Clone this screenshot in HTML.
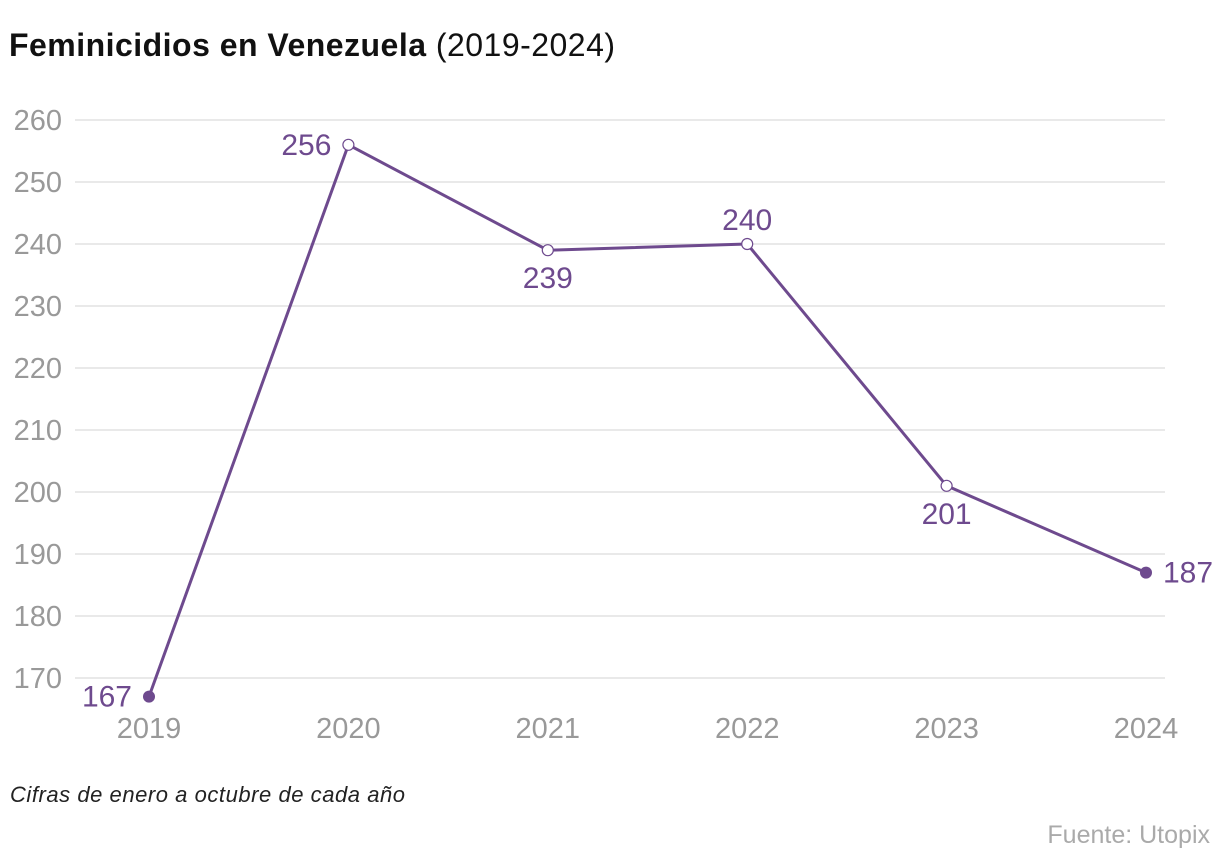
<!DOCTYPE html>
<html><head><meta charset="utf-8"><style>
body{margin:0;background:#fff;font-family:"Liberation Sans",sans-serif;}
svg{display:block}
</style></head><body>
<svg id="c" width="1220" height="864">
<text x="9" y="56" font-size="32" fill="#111" textLength="606"><tspan font-weight="bold">Feminicidios en Venezuela</tspan> (2019-2024)</text>
<g id="grid"></g><g id="series"></g>
<text x="10" y="802" font-size="22" font-style="italic" fill="#222" textLength="395">Cifras de enero a octubre de cada año</text>
<text x="1210" y="843" font-size="25" fill="#aaa" text-anchor="end">Fuente: Utopix</text>
</svg>
<script>
const years=["2019","2020","2021","2022","2023","2024"];
const values=[167,256,239,240,201,187];
const yTicks=[170,180,190,200,210,220,230,240,250,260];
const labelPos=["left","left","below","above","below","right"];
const NS="http://www.w3.org/2000/svg";
const x=i=>149+i*199.4;
const y=v=>678-(v-170)*6.2;
function mk(t,a,p){const e=document.createElementNS(NS,t);for(const k in a)e.setAttribute(k,a[k]);p.appendChild(e);return e;}
const g=document.getElementById('grid'),s=document.getElementById('series');
yTicks.forEach(v=>{
 const l=mk('line',{x1:75,x2:1165,y1:y(v),y2:y(v),stroke:'#e2e2e2','stroke-width':1.5},g);
 
 
 const t=mk('text',{x:62,y:y(v)+10,'font-size':29,fill:'#999','text-anchor':'end'},g);t.textContent=v;
 
 
});
years.forEach((yr,i)=>{
 const t=mk('text',{x:x(i),y:738,'font-size':29,fill:'#999','text-anchor':'middle'},g);t.textContent=yr;
 
 
});
const C='#6e4a8e';
const p=mk('polyline',{points:values.map((v,i)=>x(i)+','+y(v)).join(' '),fill:'none',stroke:C,'stroke-width':3,'stroke-linejoin':'round'},s);


values.forEach((v,i)=>{
 const end=i==0||i==values.length-1;
 const c=mk('circle',{cx:x(i),cy:y(v),r:end?6:5.5,fill:end?C:'#fff',stroke:C,'stroke-width':end?0:1.2},s);
 
 
 const pos=labelPos[i];let tx=x(i),ty=y(v)+10,an='middle';
 if(pos=='left'){tx=x(i)-17;an='end';}
 if(pos=='right'){tx=x(i)+17;an='start';}
 if(pos=='below'){ty=y(v)+38;}
 if(pos=='above'){ty=y(v)-14;}
 const t=mk('text',{x:tx,y:ty,'font-size':30,fill:C,'text-anchor':an},s);t.textContent=v;
 
 
});
</script>
</body></html>
